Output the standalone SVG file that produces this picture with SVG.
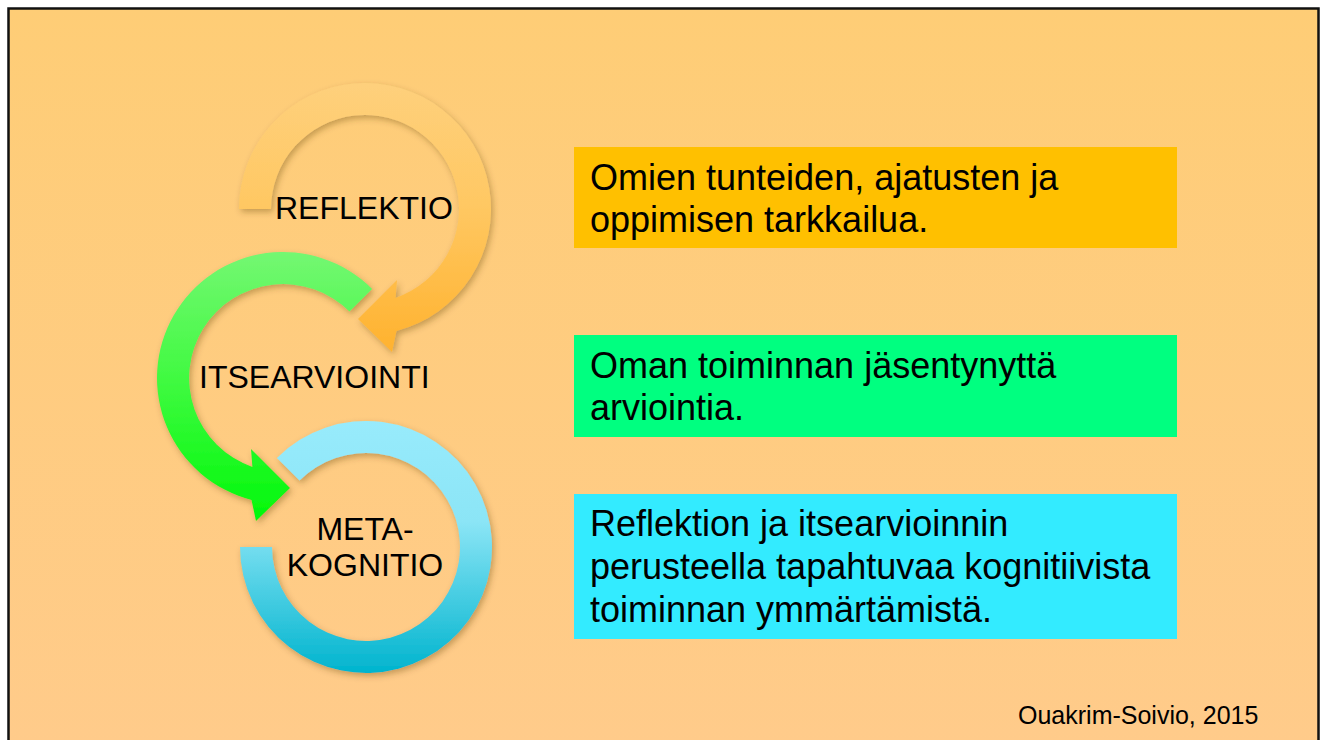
<svg xmlns="http://www.w3.org/2000/svg" width="1320" height="740" viewBox="0 0 1320 740">
  <defs>
    <linearGradient id="bg" x1="0" y1="0" x2="0" y2="1">
      <stop offset="0" stop-color="#FECD76"/>
      <stop offset="1" stop-color="#FFCB8B"/>
    </linearGradient>
    <linearGradient id="gOrange" gradientUnits="userSpaceOnUse" x1="0" y1="83" x2="0" y2="352">
      <stop offset="0" stop-color="#FED07C"/>
      <stop offset="0.45" stop-color="#FFC863"/>
      <stop offset="1" stop-color="#FFB22E"/>
    </linearGradient>
    <linearGradient id="gGreen" gradientUnits="userSpaceOnUse" x1="0" y1="252" x2="0" y2="522">
      <stop offset="0" stop-color="#74F772"/>
      <stop offset="0.5" stop-color="#3DFA3E"/>
      <stop offset="1" stop-color="#00F80A"/>
    </linearGradient>
    <linearGradient id="gCyan" gradientUnits="userSpaceOnUse" x1="0" y1="421" x2="0" y2="673">
      <stop offset="0" stop-color="#98EBFC"/>
      <stop offset="0.4" stop-color="#8BE5F6"/>
      <stop offset="1" stop-color="#00B4CE"/>
    </linearGradient>
    <filter id="shadow" x="-20%" y="-20%" width="140%" height="140%">
      <feDropShadow dx="2" dy="3" stdDeviation="3" flood-color="#5a3a00" flood-opacity="0.35"/>
    </filter>
    <style>
      .lbl { font-family: "Liberation Sans", Arial, sans-serif; font-size: 32px; fill: #000; }
      .box-text { font-family: "Liberation Sans", Arial, sans-serif; font-size: 36px; fill: #000; }
      .foot { font-family: "Liberation Sans", Arial, sans-serif; font-size: 25px; fill: #000; }
      .arc { filter: url(#shadow); }
    </style>
  </defs>

  <rect x="0" y="0" width="1320" height="740" fill="#FFFFFF"/>
  <rect id="slide" x="8.5" y="8.5" width="1310" height="760" fill="url(#bg)" stroke="#111" stroke-width="2.5"/>

  <g id="metakognitio">
    <path class="arc" fill="url(#gCyan)" d="M276.9,457.9 A126,126 0 1 1 240,547 L272,547 A94,94 0 1 0 299.5,480.5 Z"/>
    <text class="lbl" x="365" y="540" text-anchor="middle">META-</text>
    <text class="lbl" x="365" y="576" text-anchor="middle">KOGNITIO</text>
  </g>

  <g id="itsearviointi">
    <path class="arc" fill="url(#gGreen)" d="M372.1,288.9 A126,126 0 1 0 251.5,500 L256,521 L290,488 L251,449 L252.4,466.9 A94,94 0 1 1 349.5,311.5 Z"/>
    <text class="lbl" x="199" y="388">ITSEARVIOINTI</text>
  </g>

  <g id="reflektio">
    <path class="arc" fill="url(#gOrange)" d="M239,209 A126,126 0 1 1 396.5,331 L392,352 L358,319 L397,280 L395.6,297.9 A94,94 0 1 0 271,209 Z"/>
    <text class="lbl" x="275" y="219">REFLEKTIO</text>
  </g>

  <g id="box-reflektio">
    <rect x="574" y="147" width="603" height="101" fill="#FFC000"/>
    <text class="box-text" x="590" y="190">Omien tunteiden, ajatusten ja</text>
    <text class="box-text" x="590" y="232">oppimisen tarkkailua.</text>
  </g>

  <g id="box-itsearviointi">
    <rect x="574" y="335" width="603" height="102" fill="#00FF80"/>
    <text class="box-text" x="590" y="378">Oman toiminnan jäsentynyttä</text>
    <text class="box-text" x="590" y="420">arviointia.</text>
  </g>

  <g id="box-metakognitio">
    <rect x="574" y="494" width="603" height="145" fill="#33EBFF"/>
    <text class="box-text" x="590" y="536">Reflektion ja itsearvioinnin</text>
    <text class="box-text" x="590" y="579">perusteella tapahtuvaa kognitiivista</text>
    <text class="box-text" x="590" y="622">toiminnan ymmärtämistä.</text>
  </g>

  <g id="source">
    <text class="foot" x="1018" y="724">Ouakrim-Soivio, 2015</text>
  </g>
</svg>
